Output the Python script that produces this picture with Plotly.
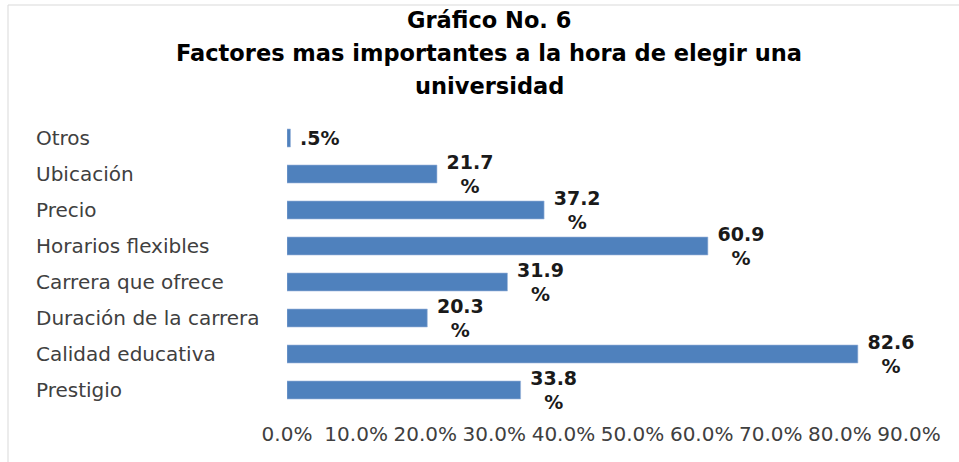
import plotly.graph_objects as go

# -------------------------------
# Data (bottom to top)
# -------------------------------

factores = [
    "Prestigio",
    "Calidad educativa",
    "Duración de la carrera",
    "Carrera que ofrece",
    "Horarios flexibles",
    "Precio",
    "Ubicación",
    "Otros",
]
porcentajes = [33.8, 82.6, 20.3, 31.9, 60.9, 37.2, 21.7, 0.5]

titulo = ["Gráfico No. 6", "Factores mas importantes a la hora de elegir una", "universidad"]

NB = "\u00a0"


def etiqueta(v):
    # Excel wrapped the longer labels onto two lines
    if v < 1:
        return NB + ("%.1f" % v).lstrip("0") + "%"
    return NB + "%.1f<br>" % v + NB + "%"


etiquetas = [etiqueta(v) for v in porcentajes]

# -------------------------------
# Geometry helpers (pixels -> paper)
# -------------------------------

W, H = 959, 462
L, R, T, B = 287, 50, 120, 54
pw, ph = W - L - R, H - T - B


def px_x(px):
    return (px - L) / pw


def px_y(py):
    return (H - B - py) / ph


FONT = "DejaVu Sans"

fig = go.Figure()

fig.add_trace(
    go.Bar(
        x=porcentajes,
        y=factores,
        orientation="h",
        marker=dict(color="#4F81BD", line=dict(color="#9DB7DC", width=0.6)),
        text=etiquetas,
        textposition="outside",
        constraintext="none",
        textfont=dict(family=FONT, size=19, color="#1a1a1a", weight="bold"),
        cliponaxis=False,
        hoverinfo="skip",
    )
)

# category labels, left aligned like the original
for f in factores:
    fig.add_annotation(
        x=px_x(34),
        xref="paper",
        y=f,
        yref="y",
        text=f,
        showarrow=False,
        xanchor="left",
        font=dict(family=FONT, size=20, color="#404040"),
    )

# title lines
for txt, py in zip(titulo, [20, 53, 86]):
    fig.add_annotation(
        x=px_x(489),
        xref="paper",
        y=px_y(py),
        yref="paper",
        text=txt,
        showarrow=False,
        xanchor="center",
        yanchor="middle",
        font=dict(family=FONT, size=22.5, color="#000000", weight="bold"),
    )

# outer chart border
fig.add_shape(
    type="rect",
    xref="paper",
    yref="paper",
    x0=px_x(8),
    x1=px_x(975),
    y0=px_y(475),
    y1=px_y(5),
    line=dict(color="#D9D9D9", width=1),
    layer="below",
)

fig.update_layout(
    width=W,
    height=H,
    margin=dict(l=L, r=R, t=T, b=B),
    paper_bgcolor="white",
    plot_bgcolor="white",
    showlegend=False,
    bargap=0.5,
    xaxis=dict(
        range=[0, 90],
        dtick=10,
        tickformat=".1f",
        ticksuffix="%",
        showgrid=False,
        zeroline=False,
        showline=False,
        ticks="",
        ticklabelstandoff=12,
        tickfont=dict(family=FONT, size=20, color="#404040"),
    ),
    yaxis=dict(
        showticklabels=False,
        showgrid=False,
        zeroline=False,
        showline=False,
        ticks="",
        categoryorder="array",
        categoryarray=factores,
    ),
)

fig.write_html(
    "out.html",
    config={"displayModeBar": False},
    post_script="document.body.style.margin='0';",
)
